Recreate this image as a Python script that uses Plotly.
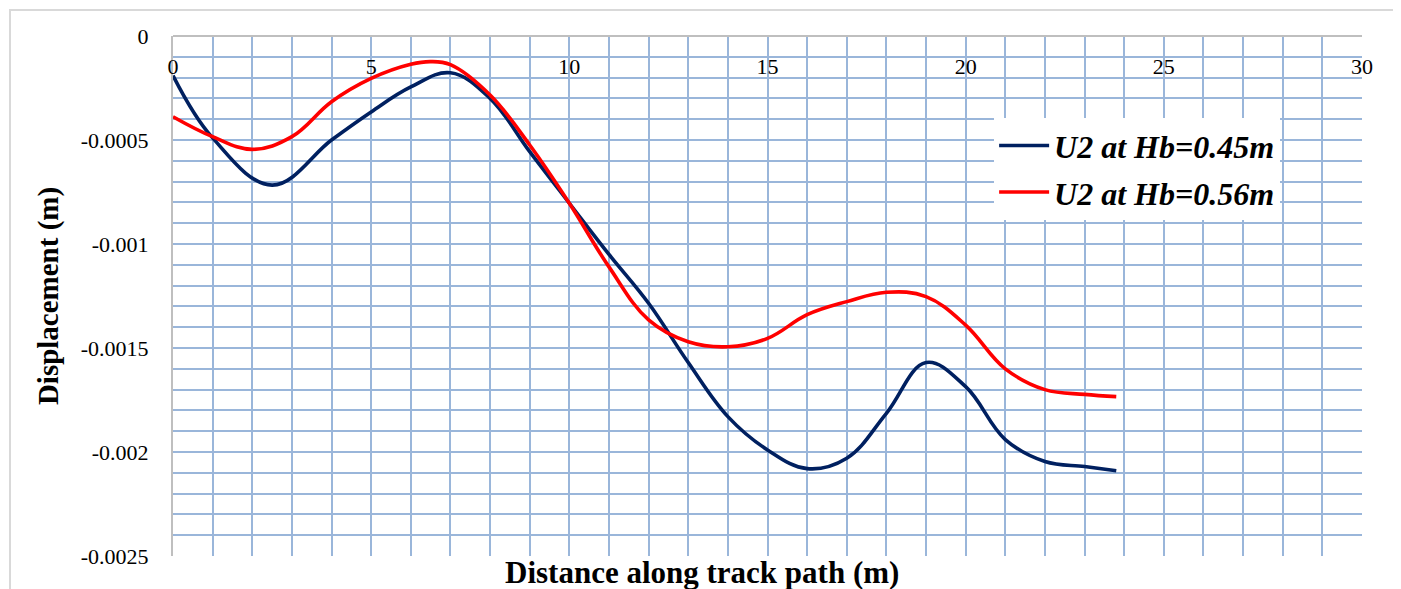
import plotly.graph_objects as go

# ---- data ----
x_045 = [0, 1, 2.5, 4, 5, 6, 7, 8, 9, 10, 11, 12, 13, 14, 15, 16, 17, 18, 19, 20, 21, 22, 23, 23.8]
u2_045 = [-0.00019, -0.00049, -0.000717, -0.0005, -0.000365, -0.000245, -0.000177,
          -0.0003, -0.000556, -0.000804, -0.00105, -0.001285, -0.00157, -0.00183, -0.00199, -0.00208,
          -0.00203, -0.001814, -0.00157, -0.001686, -0.00194, -0.002046, -0.00207, -0.00209]

x_056 = [0, 1, 2, 3, 4, 5, 6, 6.5, 7, 8, 9, 10, 11, 12, 13, 14, 15, 16, 17, 18, 19, 20, 21, 22, 23, 23.8]
u2_056 = [-0.000388, -0.000484, -0.000545, -0.000484, -0.000316, -0.000204, -0.000136, -0.000123, -0.000138,
          -0.000284, -0.000524, -0.000804, -0.00111, -0.001365, -0.00147, -0.001494, -0.001454, -0.00134,
          -0.001277, -0.001232, -0.001253, -0.00139, -0.0016, -0.0017, -0.001723, -0.001734]

x_tickvals = [0, 5, 10, 15, 20, 25, 30]
y_tickvals = [0, -0.0005, -0.001, -0.0015, -0.002, -0.0025]
y_ticktext = ["0", "-0.0005", "-0.001", "-0.0015", "-0.002", "-0.0025"]

series_names = ["U2 at Hb=0.45m", "U2 at Hb=0.56m"]
series_colors = ["#002060", "#FF0000"]
x_title = "Distance along track path (m)"
y_title = "Displacement (m)"

FONT = "Liberation Serif, Times New Roman, serif"
GRID = "#9AB6DA"

fig = go.Figure()
for i, (xs, ys) in enumerate([(x_045, u2_045), (x_056, u2_056)]):
    fig.add_trace(go.Scatter(
        x=xs, y=ys, mode="lines", name=series_names[i],
        line=dict(color=series_colors[i], width=3.6, shape="spline", smoothing=1.1),
        legendgroup=f"g{i}",
    ))

fig.update_layout(
    width=1401, height=589,
    margin=dict(l=165, r=47, t=28, b=41),
    paper_bgcolor="white", plot_bgcolor="white",
    font=dict(family=FONT, size=22, color="black"),
    showlegend=True,
    legend=dict(
        x=0.6906, y=0.842, xanchor="left", yanchor="top",
        bgcolor="white", borderwidth=0,
        font=dict(family=FONT, size=32, color="black", weight="bold", style="italic"),
        tracegroupgap=2, traceorder="grouped",
        itemwidth=50,
    ),
    xaxis=dict(
        range=[0, 30], tickvals=x_tickvals, ticks="",
        showline=False, zeroline=False, automargin=False,
        showgrid=True, gridcolor=GRID, gridwidth=1.6,
        minor=dict(dtick=1, showgrid=True, gridcolor=GRID, gridwidth=1.6, ticks=""),
        anchor="free", position=0.972, side="bottom",
        tickfont=dict(family=FONT, size=22, color="black"),
    ),
    yaxis=dict(
        range=[-0.0025, 0], tickvals=y_tickvals, ticktext=y_ticktext, ticks="",
        showline=True, linecolor="#BFBFBF", linewidth=2,
        zeroline=False, automargin=False,
        showgrid=True, gridcolor=GRID, gridwidth=1.6,
        minor=dict(dtick=0.0001, showgrid=True, gridcolor=GRID, gridwidth=1.6, ticks=""),
        ticklabelstandoff=18,
        tickfont=dict(family=FONT, size=22, color="black"),
        title=dict(text=f"<b>{y_title}</b>", standoff=14,
                   font=dict(family=FONT, size=29, color="black")),
    ),
)

# x-axis title sits below the plot area (axis itself crosses at y = 0 at the top)
fig.add_annotation(text=f"<b>{x_title}</b>", xref="paper", yref="paper", x=0.445, y=-0.0325,
                   xanchor="center", yanchor="middle", showarrow=False,
                   font=dict(family=FONT, size=31, color="black"))

# top axis line (x-axis crosses at y = 0)
fig.add_shape(type="line", xref="paper", yref="paper", x0=0, x1=1, y0=1, y1=1,
              line=dict(color="#BFBFBF", width=2), layer="above")
# outer chart frame
fig.add_shape(type="rect", xref="paper", yref="paper", x0=-0.1371, x1=1.06, y0=-0.2, y1=1.05,
              line=dict(color="#D9D9D9", width=2), fillcolor="rgba(0,0,0,0)", layer="below")

fig.write_html("out.html")
